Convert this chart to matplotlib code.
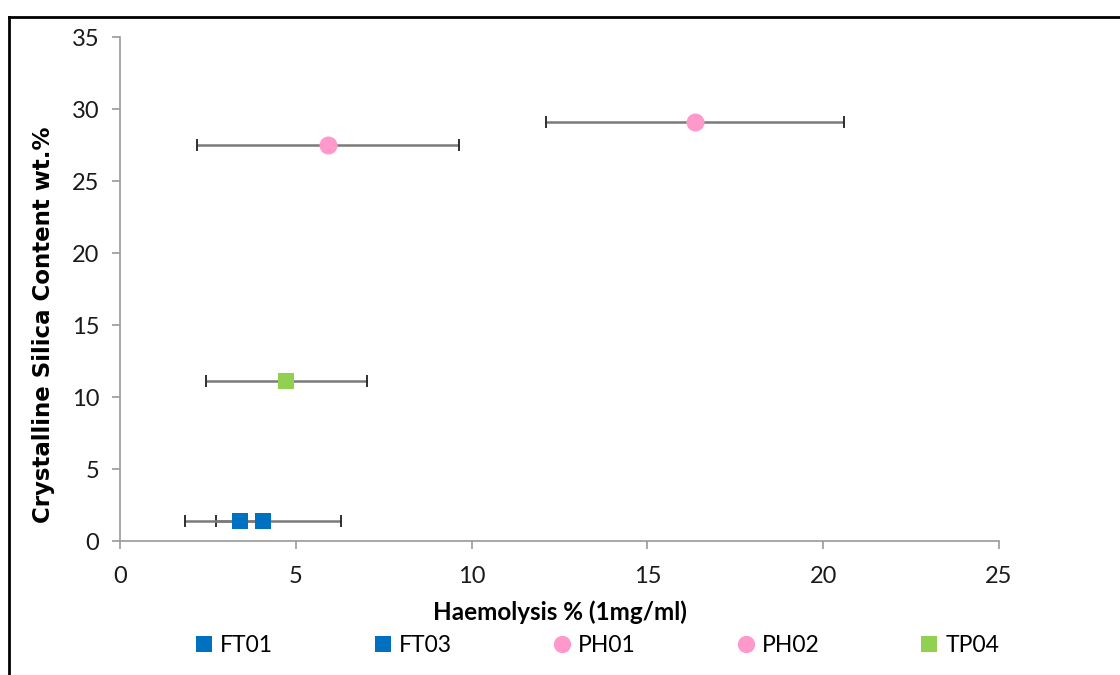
import matplotlib
matplotlib.use("Agg")
import matplotlib.pyplot as plt
from matplotlib.lines import Line2D

# Sample data
samples = ["FT01", "FT03", "PH01", "PH02", "TP04"]
haemolysis = [3.41, 4.07, 5.92, 16.36, 4.73]
haemolysis_err = [0.68, 2.21, 3.73, 4.24, 2.29]
silica = [1.4, 1.4, 27.5, 29.1, 11.1]
markers = ["s", "s", "o", "o", "s"]
colors = ["#0070C0", "#0070C0", "#FF99CC", "#FF99CC", "#92D050"]

x_ticks = [0, 5, 10, 15, 20, 25]
y_ticks = [0, 5, 10, 15, 20, 25, 30, 35]

font = ["Lato", "DejaVu Sans"]
plt.rcParams["font.family"] = font

fig = plt.figure(figsize=(11.2, 6.75), dpi=100)
ax = fig.add_axes([120 / 1120, 1 - 541 / 675, (999 - 120) / 1120, (541 - 37) / 675])

handles = []
for name, xv, xe, yv, m, c in zip(samples, haemolysis, haemolysis_err, silica, markers, colors):
    ms = 11.5 if m == "s" else 13
    cont = ax.errorbar(xv, yv, xerr=xe, fmt=m, color=c, markersize=ms,
                       markeredgewidth=0, ecolor="#7a7a7a", elinewidth=1.8,
                       capsize=4.5, zorder=3)
    for cap in cont[1]:
        cap.set_markeredgecolor("#202020")
        cap.set_markeredgewidth(1.3)
    h = Line2D([], [], linestyle="none", marker=m, color=c,
               markersize=(11 if m == "s" else 12.5), markeredgewidth=0)
    handles.append(h)

ax.set_xlim(0, 25)
ax.set_ylim(0, 35)
ax.set_xticks(x_ticks)
ax.set_yticks(y_ticks)

for side in ["top", "right"]:
    ax.spines[side].set_visible(False)
for side in ["left", "bottom"]:
    ax.spines[side].set_color("#9a9a9a")
    ax.spines[side].set_linewidth(1.2)
ax.tick_params(axis="both", direction="out", length=6, width=1.2, color="#9a9a9a",
               labelsize=17, labelcolor="#1a1a1a")
ax.tick_params(axis="y", pad=9)
ax.tick_params(axis="x", pad=12)

ax.set_xlabel("Haemolysis % (1mg/ml)", fontsize=17.5, fontweight="bold", labelpad=10)
ax.set_ylabel("Crystalline Silica Content wt.%", fontsize=16.5, fontweight="bold",
              family=["DejaVu Sans"])
ax.yaxis.set_label_coords(-0.074, 0.43)

fig.legend(handles, samples, loc="center", bbox_to_anchor=(0.534, 0.044),
           ncol=5, frameon=False, handlelength=0.6, handletextpad=0.4,
           columnspacing=4.5, prop={"size": 16.5})

# Outer frame around the chart area
fig.add_artist(Line2D([9 / 1120, 9 / 1120], [0, 1 - 17 / 675], transform=fig.transFigure,
                      color="black", linewidth=2))
fig.add_artist(Line2D([9 / 1120, 1], [1 - 17 / 675, 1 - 17 / 675], transform=fig.transFigure,
                      color="black", linewidth=2))

fig.savefig("out.png", dpi=100)
